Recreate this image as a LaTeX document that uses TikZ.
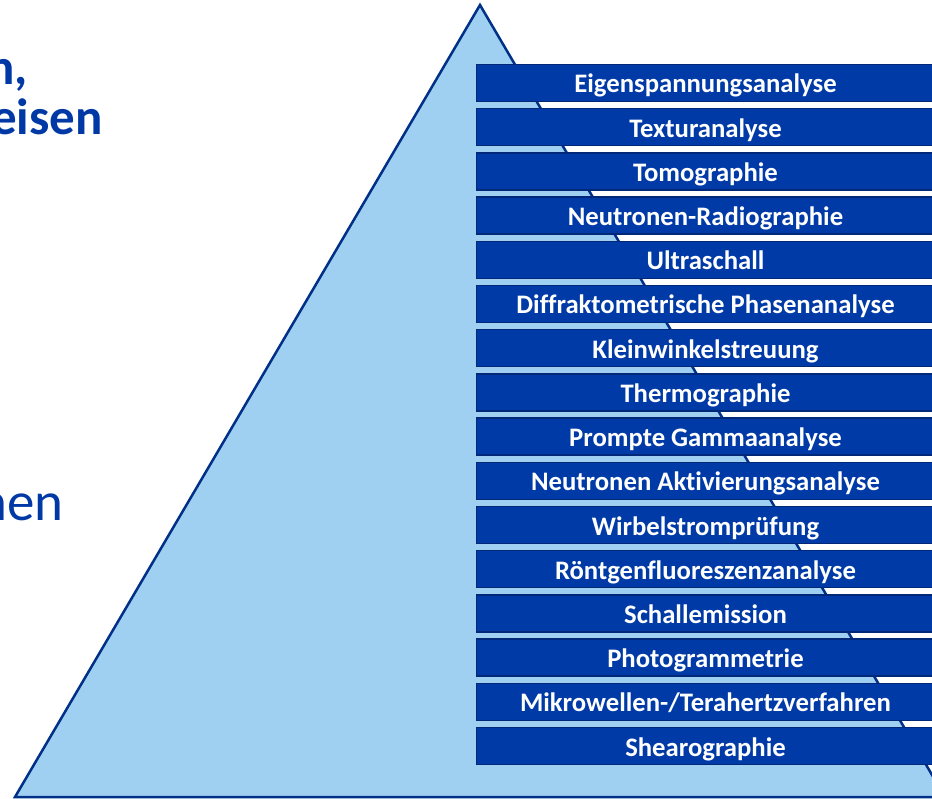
\documentclass[tikz,border=0pt]{standalone}
\usepackage{fontspec}
\setmainfont{Carlito}[Ligatures={NoCommon,NoContextual}]
\definecolor{pyrfill}{RGB}{159,208,242}
\definecolor{pyrline}{RGB}{0,48,135}
\definecolor{barfill}{RGB}{0,58,166}
\definecolor{barline}{RGB}{0,40,120}
\definecolor{headblue}{RGB}{0,57,166}
\begin{document}
\begin{tikzpicture}[x=1pt,y=-1pt,
  bar/.style={draw=barline, line width=1.5pt, fill=barfill,
    minimum width=458pt, minimum height=37pt, inner sep=0pt,
    text height=20pt, text depth=0pt,
    text=white, font=\fontsize{26.7}{28}\selectfont\bfseries},
  headbold/.style={anchor=base east, inner sep=0pt, text=headblue,
    font=\fontsize{51}{54}\selectfont\bfseries},
  headplain/.style={anchor=base east, inner sep=0pt, text=headblue,
    font=\fontsize{55}{58}\selectfont}]
\useasboundingbox (0,0) rectangle (932,799);

% pyramid
\filldraw[fill=pyrfill, draw=pyrline, line width=2.5pt, line join=miter]
  (480,5) -- (945,797) -- (15,797) -- cycle;

% method bars
\foreach \t [count=\i] in {Eigenspannungsanalyse, Texturanalyse, Tomographie,
  Neutronen-Radiographie, Ultraschall, Diffraktometrische Phasenanalyse,
  Kleinwinkelstreuung, Thermographie, Prompte Gammaanalyse,
  Neutronen Aktivierungsanalyse, Wirbelstromprüfung,
  Röntgenfluoreszenzanalyse, Schallemission, Photogrammetrie,
  Mikrowellen-/Terahertzverfahren, Shearographie}
  \node[bar] (bar\i) at (705.5,{83+(\i-1)*44.2}) {\t};

% heading fragments on the left
\node[headbold] (h1) at (28,85) {n,};
\node[headbold] (h2) at (103,135) {eisen};
\node[headplain] (h3) at (64,520) {nen};
\end{tikzpicture}
\end{document}
